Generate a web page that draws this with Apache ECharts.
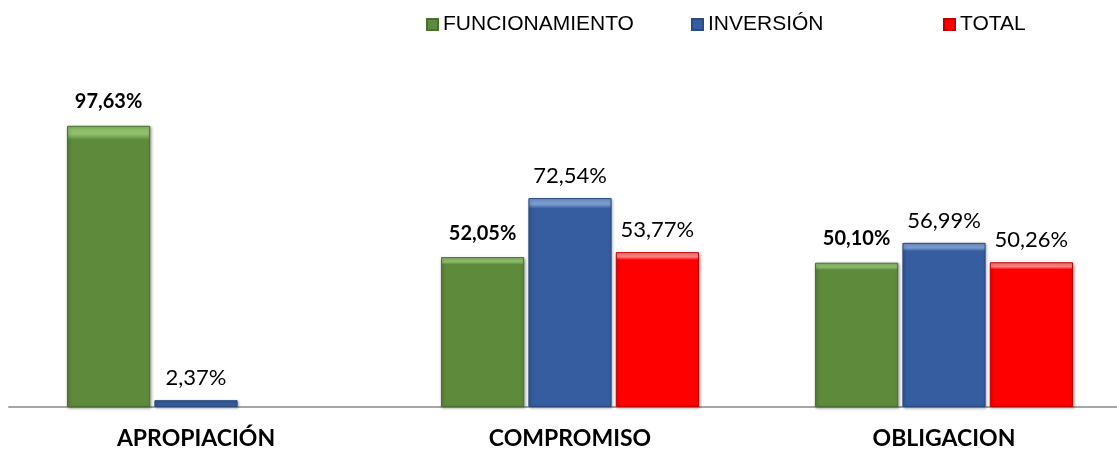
<html>
<head>
    <meta charset="utf-8">
    <title>ECharts</title>
    <script src="https://cdn.jsdelivr.net/npm/echarts@6/dist/echarts.min.js"></script>
</head>
<body style="margin:0">
    <div id="main" style="width: 1117px;height:453px;"></div>
    <script type="text/javascript">
        // datos
        var categorias = ['APROPIACIÓN', 'COMPROMISO', 'OBLIGACION'];
        var funcionamiento = [97.63, 52.05, 50.10];
        var inversion = [2.37, 72.54, 56.99];
        var total = [null, 53.77, 50.26];
        var nombres = ['FUNCIONAMIENTO', 'INVERSIÓN', 'TOTAL'];

        var myChart = echarts.init(document.getElementById('main'));

        function fmt(p) {
            return p.value.toFixed(2).replace('.', ',') + '%';
        }
        function barra(nombre, datos, c1, c2, borde, negrita) {
            return {
                name: nombre,
                type: 'bar',
                data: datos,
                barGap: '5%',
                barCategoryGap: '31%',
                itemStyle: {
                    color: new echarts.graphic.LinearGradient(0, 0, 0, 1, [
                        { offset: 0, color: c1 },
                        { offset: 0.03, color: c1 },
                        { offset: 0.05, color: c2 },
                        { offset: 1, color: c2 }
                    ]),
                    borderColor: borde,
                    borderWidth: 1,
                    shadowColor: 'rgba(0,0,0,0.35)',
                    shadowBlur: 3,
                    shadowOffsetX: 1,
                    shadowOffsetY: 1
                },
                label: {
                    show: true,
                    position: 'top',
                    distance: negrita ? 14 : 11,
                    formatter: fmt,
                    fontFamily: 'Lato',
                    fontSize: negrita ? 20 : 22,
                    fontWeight: negrita ? 'bold' : 'normal',
                    color: '#000'
                }
            };
        }
        function leyenda(nombre, x) {
            return {
                top: 9,
                left: x,
                itemWidth: 11,
                itemHeight: 11,
                itemGap: 5,
                icon: 'rect',
                textStyle: { fontFamily: 'Liberation Sans', fontSize: 21, color: '#000' },
                data: [nombre]
            };
        }

        var option = {
            animation: false,
            legend: [
                leyenda(nombres[0], 421),
                leyenda(nombres[1], 686),
                leyenda(nombres[2], 938)
            ],
            grid: { left: 9, width: 1122, top: 119, bottom: 46, outerBoundsMode: 'none', containLabel: false },
            xAxis: {
                type: 'category',
                data: categorias,
                axisTick: { show: false },
                axisLine: { lineStyle: { color: '#a6a6a6', width: 2 } },
                axisLabel: {
                    margin: 20,
                    fontFamily: 'Lato',
                    fontWeight: 'bold',
                    fontSize: 23,
                    color: '#000'
                }
            },
            yAxis: { type: 'value', min: 0, max: 100, show: false },
            series: [
                barra(nombres[0], funcionamiento, '#8fbf6a', '#5e8a3c', '#4a7030', true),
                barra(nombres[1], inversion, '#7a9bd0', '#365d9f', '#2a4a80', false),
                barra(nombres[2], total, '#ff8080', '#ff0000', '#c00000', false)
            ]
        };
        myChart.setOption(option);
    </script>
</body>
</html>
